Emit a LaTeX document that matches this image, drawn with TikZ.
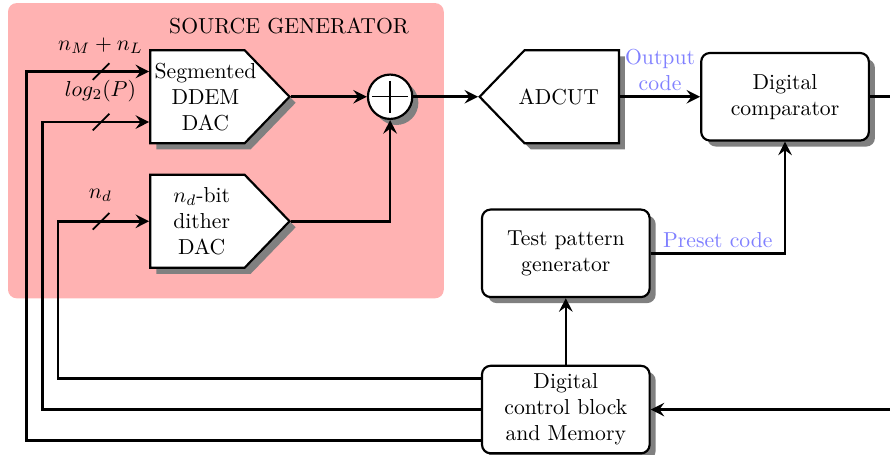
\documentclass[tikz,border=0pt]{standalone}
\usepackage{amsmath}
\usepackage{tikz}
\usetikzlibrary{positioning, arrows.meta, shapes.symbols, shadows}

\begin{document}
\begin{tikzpicture}[
		font=\normalsize,
		>={Stealth[length=2.2mm, width=2.2mm, inset=0.8mm]},
		sig/.style={very thick},
		boxshadow/.style={drop shadow={opacity=1, fill=black!50, shadow xshift=2.8pt, shadow yshift=-2.8pt}},
		dac/.style={draw, line width=1pt, fill=white, boxshadow, signal, signal to=east, signal pointer angle=92, minimum width=2.26cm, minimum height=1.51cm},
		adc/.style={dac, signal to=west},
		dactext/.style={align=center, inner sep=0pt},
		box/.style={draw, line width=1pt, fill=white, boxshadow, rounded corners, align=center, minimum width=2.72cm, minimum height=1.42cm, inner sep=1pt},
		lbl/.style={text=blue!50, align=center, inner sep=2pt}
		]
		\useasboundingbox (0,0) rectangle (14.44,-7.37);
		
		% Source generator area
		\fill[red!30, rounded corners=4pt] (0.13,-0.05) rectangle (7.2,-4.84);
		\node (srcgen) at (4.69,-0.42) {SOURCE GENERATOR};
		
		% DACs and adder
		\node[dac, anchor=west, label={[dactext, name=ddemtxt, xshift=1.3mm]center:Segmented\\DDEM\\DAC}] (ddem) at (2.42,-1.57) {};
		\node[dac, anchor=west, label={[dactext, name=dithtxt, xshift=0.7mm]center:$n_d$-bit\\dither\\DAC}] (dith) at (2.42,-3.59) {};
		\node[draw, line width=1pt, fill=white, boxshadow, circle, minimum size=0.72cm, inner sep=0pt, right=1.23cm of ddem] (sum) {};
		\draw[semithick] ([yshift=-1.2mm]sum.north) -- ([yshift=1.2mm]sum.south)
			([xshift=0.9mm]sum.west) -- ([xshift=-0.9mm]sum.east);
		
		% Converter under test and checking
		\node[adc, right=1.05cm of sum, label={[dactext, name=adcuttxt, xshift=-2.1mm]center:ADCUT}] (adcut) {};
		\node[box, right=1.3cm of adcut] (comp) {Digital\\comparator};
		\node[box] (tpg) at (9.18,-4.11) {Test pattern\\generator};
		\node[box, below=1.08cm of tpg] (dcb) {Digital\\control block\\and Memory};
		
		\draw[sig, ->] (ddem.east) -- (sum.west);
		\draw[sig, ->] (dith.east) -| (sum.south);
		\draw[sig, ->] (sum.east) -- (adcut.west);
		\draw[sig, ->] (adcut.east) -- node[lbl, above] (outcode) {Output\\code} (comp.west);
		\draw[sig, ->] (tpg.east) -| node[lbl, pos=0.25, above] (preset) {Preset code} (comp.south);
		\draw[sig, ->] (dcb.north) -- (tpg.south);
		\draw[sig, ->] (comp.east) -- ++(0.6,0) |- (dcb.east);
		
		% Control words back to the DACs
		\coordinate (inA) at ([yshift=4.1mm]ddem.west);
		\coordinate (inB) at ([yshift=-4.1mm]ddem.west);
		\draw[sig, ->] ([yshift=-5mm]dcb.west) -- ++(-7.37,0) |- (inA);
		\draw[sig, ->] (dcb.west) -- ++(-7.11,0) |- (inB);
		\draw[sig, ->] ([yshift=5mm]dcb.west) -- ++(-6.86,0) |- (dith.west);
		
		% Bus widths
		\draw[thick] ([xshift=-7.8mm]inA) ++(-1.35mm,-1.35mm) -- ++(2.7mm,2.7mm);
		\draw[thick] ([xshift=-7.8mm]inB) ++(-1.35mm,-1.35mm) -- ++(2.7mm,2.7mm);
		\draw[thick] ([xshift=-7.8mm]dith.west) ++(-1.35mm,-1.35mm) -- ++(2.7mm,2.7mm);
		\node (wA) at ([xshift=-7.9mm, yshift=4.2mm]inA) {$n_M+n_L$};
		\node (wB) at ([xshift=-7.9mm, yshift=5mm]inB) {$log_2(P)$};
		\node (wC) at ([xshift=-7.9mm, yshift=4.2mm]dith.west) {$n_d$};
		
	\end{tikzpicture}
\end{document}
